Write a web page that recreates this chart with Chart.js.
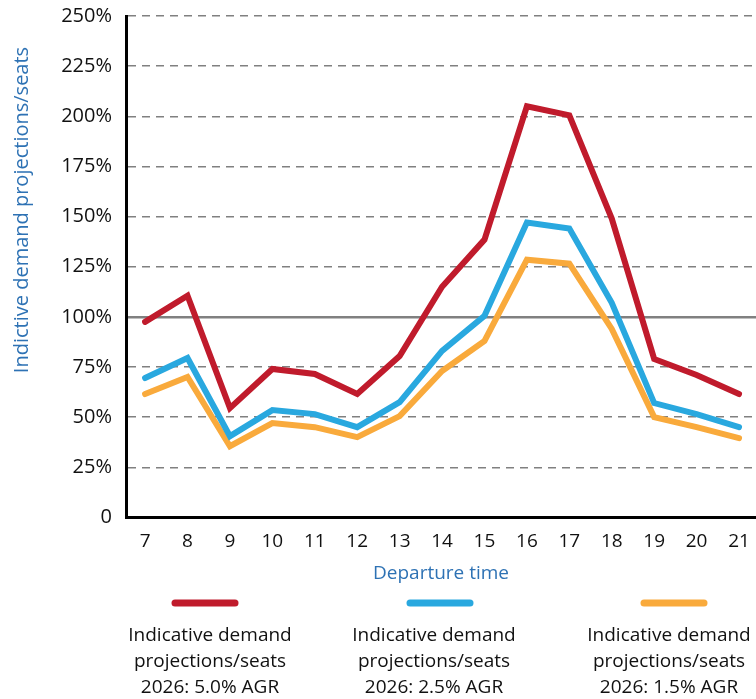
<!DOCTYPE html>
<html lang="en">
<head>
    <meta charset="UTF-8">
    <title>Indicative demand projections/seats</title>
    <script src="https://cdn.jsdelivr.net/npm/chart.js@4.4.0/dist/chart.umd.min.js"></script>
    <style>
        html, body { margin: 0; padding: 0; background: #fff; }
        #wrap { width: 756px; height: 699px; position: relative; }
    </style>
</head>
<body>
<div id="wrap"><canvas id="my-chart"></canvas></div>
<script>

    // departure hours (x axis)
    const hours = [7, 8, 9, 10, 11, 12, 13, 14, 15, 16, 17, 18, 19, 20, 21];

    // demand / seats in %
    const agr50 = [97.5, 110.5, 54.5, 74, 71.5, 61.5, 80.5, 115, 138.5, 205, 200.5, 149, 79, 71, 61.5];
    const agr25 = [69.5, 79.5, 40.5, 53.5, 51.5, 45, 57.5, 83, 100.5, 147, 144, 107, 57, 51.5, 45];
    const agr15 = [61.5, 70, 35.5, 47, 45, 40, 50.5, 73, 88, 128.5, 126.5, 94, 50, 45, 39.5];

    const yTicks = [0, 25, 50, 75, 100, 125, 150, 175, 200, 225, 250];

    const legendLines = [
        ['Indicative demand', 'projections/seats', '2026: 5.0% AGR'],
        ['Indicative demand', 'projections/seats', '2026: 2.5% AGR'],
        ['Indicative demand', 'projections/seats', '2026: 1.5% AGR']
    ];

    const yTitle = 'Indictive demand projections/seats';
    const xTitle = 'Departure time';

    const RED = '#c01b2c';
    const BLUE = '#29a8df';
    const ORANGE = '#f9aa3c';
    const TITLE_BLUE = '#2e72b4';
    const FONT = '"Open Sans", sans-serif';

    const toPoints = (vals) => hours.map((h, i) => ({x: h, y: vals[i]}));

    // y title + bottom legend, drawn by hand
    const extraText = {
        id: 'extraText',
        afterDraw(chart) {
            const c = chart.ctx;
            c.save();
            c.fillStyle = TITLE_BLUE;
            c.font = '20px ' + FONT;
            c.textAlign = 'center';
            c.textBaseline = 'middle';
            c.translate(22, 210);
            c.rotate(-Math.PI / 2);
            c.fillText(yTitle, 0, 0);
            c.restore();

            const lineX = [205, 440, 674];
            const textX = [210, 434, 669];
            c.save();
            chart.data.datasets.forEach((ds, i) => {
                c.strokeStyle = ds.borderColor;
                c.lineWidth = 7;
                c.lineCap = 'round';
                c.beginPath();
                c.moveTo(lineX[i] - 30, 603);
                c.lineTo(lineX[i] + 30, 603);
                c.stroke();

                c.fillStyle = '#111';
                c.font = '19px ' + FONT;
                c.textAlign = 'center';
                c.textBaseline = 'middle';
                legendLines[i].forEach((t, j) => c.fillText(t, textX[i], 636 + j * 26));
            });
            c.restore();
        }
    };

    const data = {
        datasets: [{
            label: legendLines[0].join(' '),
            data: toPoints(agr50),
            borderColor: RED
        }, {
            label: legendLines[1].join(' '),
            data: toPoints(agr25),
            borderColor: BLUE
        }, {
            label: legendLines[2].join(' '),
            data: toPoints(agr15),
            borderColor: ORANGE
        }]
    };

    const config = {
        type: 'line',
        data: data,
        options: {
            responsive: true,
            maintainAspectRatio: false,
            animation: false,
            layout: {padding: {top: 16, right: 0, bottom: 114, left: 0}},
            elements: {
                line: {borderWidth: 6, tension: 0, borderCapStyle: 'round', borderJoinStyle: 'miter', fill: false},
                point: {radius: 0}
            },
            plugins: {
                legend: {display: false},
                tooltip: {enabled: false}
            },
            scales: {
                x: {
                    type: 'linear',
                    min: 6.55,
                    max: 21.4,
                    afterBuildTicks: (s) => { s.ticks = hours.map(v => ({value: v})); },
                    afterFit: (s) => {
                        s.paddingLeft = 0;
                        s.paddingRight = 0;
                    },
                    grid: {drawOnChartArea: false, drawTicks: false},
                    border: {color: '#000', width: 3},
                    ticks: {
                        color: '#111',
                        font: {family: FONT, size: 19},
                        padding: 13,
                        maxRotation: 0,
                        callback: (v) => String(v)
                    },
                    title: {
                        display: true,
                        text: xTitle,
                        color: TITLE_BLUE,
                        font: {family: FONT, size: 19},
                        padding: {top: -4, bottom: 0}
                    }
                },
                y: {
                    min: 0,
                    max: 250,
                    afterBuildTicks: (s) => { s.ticks = yTicks.map(v => ({value: v})); },
                    afterFit: (s) => {
                        s.width = 126;
                        s.paddingTop = 0;
                        s.paddingBottom = 0;
                    },
                    grid: {
                        drawTicks: false,
                        color: (ctx) => (ctx.tick && ctx.tick.value === 0) ? 'rgba(0,0,0,0)' : '#808080',
                        lineWidth: (ctx) => (ctx.tick && ctx.tick.value === 100) ? 2.5 : 1.5
                    },
                    border: {
                        color: '#000',
                        width: 3,
                        dash: (ctx) => ctx.tick ? (ctx.tick.value === 100 ? [] : [8, 6]) : []
                    },
                    ticks: {
                        color: '#111',
                        font: {family: FONT, size: 20},
                        padding: 14,
                        callback: (v) => v === 0 ? '0' : v + '%'
                    }
                }
            }
        },
        plugins: [extraText]
    };

    const chart = new Chart(document.getElementById('my-chart'), config);

</script>
</body>
</html>
